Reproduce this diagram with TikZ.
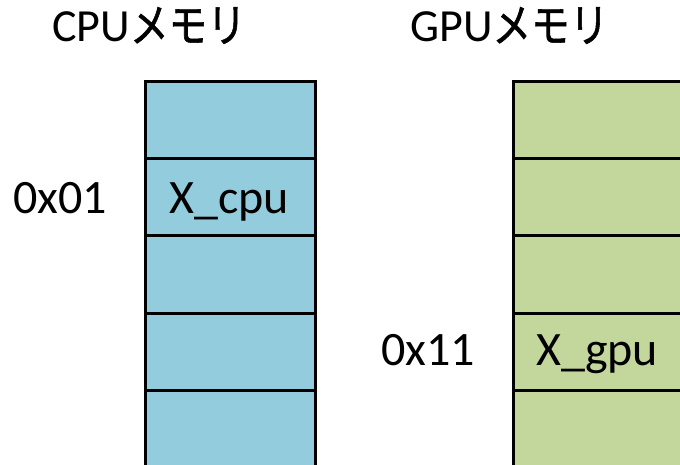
\documentclass[tikz,border=0pt]{standalone}
\usepackage{fontspec}
\setmainfont{Carlito}
\newfontfamily\cjk[FakeStretch=0.84,FakeBold=1.2]{Noto Sans CJK JP}
\definecolor{cpufill}{HTML}{93CDDD}
\definecolor{gpufill}{HTML}{C3D69B}
\begin{document}
\begin{tikzpicture}[x=1pt,y=-1pt,
  cell/.style={draw=black,line width=3pt,minimum width=170pt,minimum height=77pt,inner sep=0pt,anchor=center},
  cpucell/.style={cell,fill=cpufill},
  gpucell/.style={cell,fill=gpufill},
  title/.style={font=\fontsize{46}{50}\selectfont,anchor=base west,inner sep=0pt},
  txt/.style={font=\fontsize{48}{52}\selectfont,anchor=base west,inner sep=0pt}]
\useasboundingbox (0,0) rectangle (680,465);
\clip (0,0) rectangle (680,465);
% CPU column
\node[cpucell] (c1) at (230,120.5) {};
\node[cpucell] (c2) at (230,197.5) {};
\node[cpucell] (c3) at (230,274.5) {};
\node[cpucell] (c4) at (230,351.5) {};
\node[cpucell] (c5) at (230,428.5) {};
% GPU column
\node[gpucell] (g1) at (598,120.5) {};
\node[gpucell] (g2) at (598,197.5) {};
\node[gpucell] (g3) at (598,274.5) {};
\node[gpucell] (g4) at (598,351.5) {};
\node[gpucell] (g5) at (598,428.5) {};
% cell texts
\node[txt] (xc) at (169,214) {X\_cpu};
\node[txt] (xg) at (536,365) {X\_gpu};
% titles
\node[title] (tc) at (52,42) {CPU{\cjk メモリ}};
\node[title] (tg) at (410,42) {GPU{\cjk メモリ}};
% addresses
\node[txt] (a1) at (13,214) {0x01};
\node[txt] (a2) at (381,365) {0x11};
\end{tikzpicture}
\end{document}
